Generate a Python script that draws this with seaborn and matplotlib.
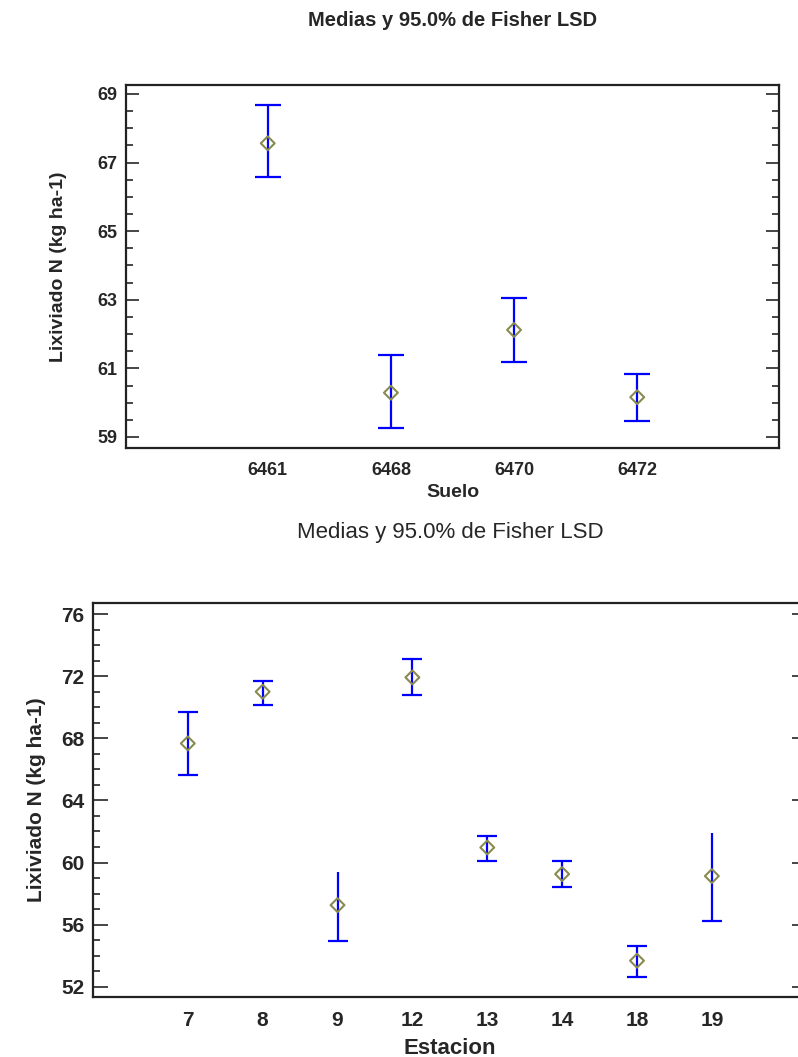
import numpy as np
import pandas as pd
import seaborn as sns
import matplotlib.pyplot as plt
from matplotlib.ticker import MultipleLocator

# datos
suelo = ['6461', '6468', '6470', '6472']
suelo_media = [67.56, 60.29, 62.12, 60.16]
suelo_inf = [66.59, 59.27, 61.18, 59.47]
suelo_sup = [68.68, 61.38, 63.04, 60.85]

estacion = ['7', '8', '9', '12', '13', '14', '18', '19']
est_media = [67.67, 71.0, 57.26, 71.92, 60.97, 59.26, 53.68, 59.13]
est_inf = [65.63, 70.14, 54.96, 70.78, 60.12, 58.44, 52.64, 56.25]
est_sup = [69.71, 71.71, 59.41, 73.10, 61.71, 60.12, 54.64, 61.88]
est_cap_sup = [True, True, False, True, True, True, True, False]

titulo = 'Medias y 95.0% de Fisher LSD'
ylab = 'Lixiviado N (kg ha-1)'

sns.set_style('white')
plt.rcParams['font.family'] = ['Liberation Sans', 'DejaVu Sans']

fig = plt.figure(figsize=(7.98, 10.57), dpi=100)
ax1 = fig.add_axes([0.158, 0.5762, 0.818, 0.3434])
ax2 = fig.add_axes([0.1162, 0.0570, 0.895, 0.3728])


def dibujar(ax, cats, media, inf, sup, cap_sup, capw, fs, xmargen, ylim,
            major, offset, minor, ticklen):
    df = pd.DataFrame({'cat': cats, 'media': media, 'inf': inf, 'sup': sup})
    err = [df['media'] - df['inf'], df['sup'] - df['media']]
    ax.errorbar(df['cat'], df['media'], yerr=err, fmt='none', ecolor='#0000ff',
                elinewidth=1.6, capsize=0, zorder=2)
    # tapas
    ax.plot(df['cat'], df['inf'], ls='none', marker='_', ms=capw, mew=1.6,
            color='#0000ff', zorder=2)
    top = df[cap_sup]
    ax.plot(top['cat'], top['sup'], ls='none', marker='_', ms=capw, mew=1.6,
            color='#0000ff', zorder=2)
    sns.scatterplot(data=df, x='cat', y='media', ax=ax, marker='D', s=50,
                    facecolor='none', edgecolor='#8a8a50', linewidth=1.5, zorder=3)
    ax.set_xlim(-xmargen, len(cats) - 1 + xmargen)
    ax.set_ylim(*ylim)
    ax.yaxis.set_major_locator(MultipleLocator(major, offset=offset))
    ax.yaxis.set_minor_locator(MultipleLocator(minor))
    ax.tick_params(axis='y', which='major', direction='in', length=ticklen, width=1.2,
                   left=True, right=True, labelsize=fs, pad=6)
    ax.tick_params(axis='y', which='minor', direction='in', length=ticklen / 2, width=1.2,
                   left=True, right=True)
    ax.tick_params(axis='x', length=0, labelsize=fs, pad=10)
    for t in ax.get_xticklabels() + ax.get_yticklabels():
        t.set_fontweight('bold')
    for s in ax.spines.values():
        s.set_color('#222222')
        s.set_linewidth(1.6)


dibujar(ax1, suelo, suelo_media, suelo_inf, suelo_sup, [True] * 4, 19, 13, 1.15,
        (58.68, 69.26), 2, 1, 0.5, 9.4)
ax1.set_xlabel('Suelo', fontsize=14, fontweight='bold')
ax1.set_ylabel(ylab, fontsize=14, fontweight='bold')
ax1.xaxis.set_label_coords(0.5, -0.1)
ax1.yaxis.set_label_coords(-0.09, 0.5)
ax1.text(0.5, 1.179, titulo, transform=ax1.transAxes, ha='center', va='center',
         fontsize=14.5, fontweight='bold')

dibujar(ax2, estacion, est_media, est_inf, est_sup, est_cap_sup, 14.5, 15, 1.27,
        (51.36, 76.73), 4, 0, 1, 10.5)
ax2.set_xlabel('Estacion', fontsize=16, fontweight='bold')
ax2.set_ylabel(ylab, fontsize=15, fontweight='bold')
ax2.xaxis.set_label_coords(0.5, -0.105)
ax2.yaxis.set_label_coords(-0.066, 0.5)
ax2.text(0.5, 1.178, titulo, transform=ax2.transAxes, ha='center', va='center',
         fontsize=16)

fig.savefig('out.png', dpi=100)
